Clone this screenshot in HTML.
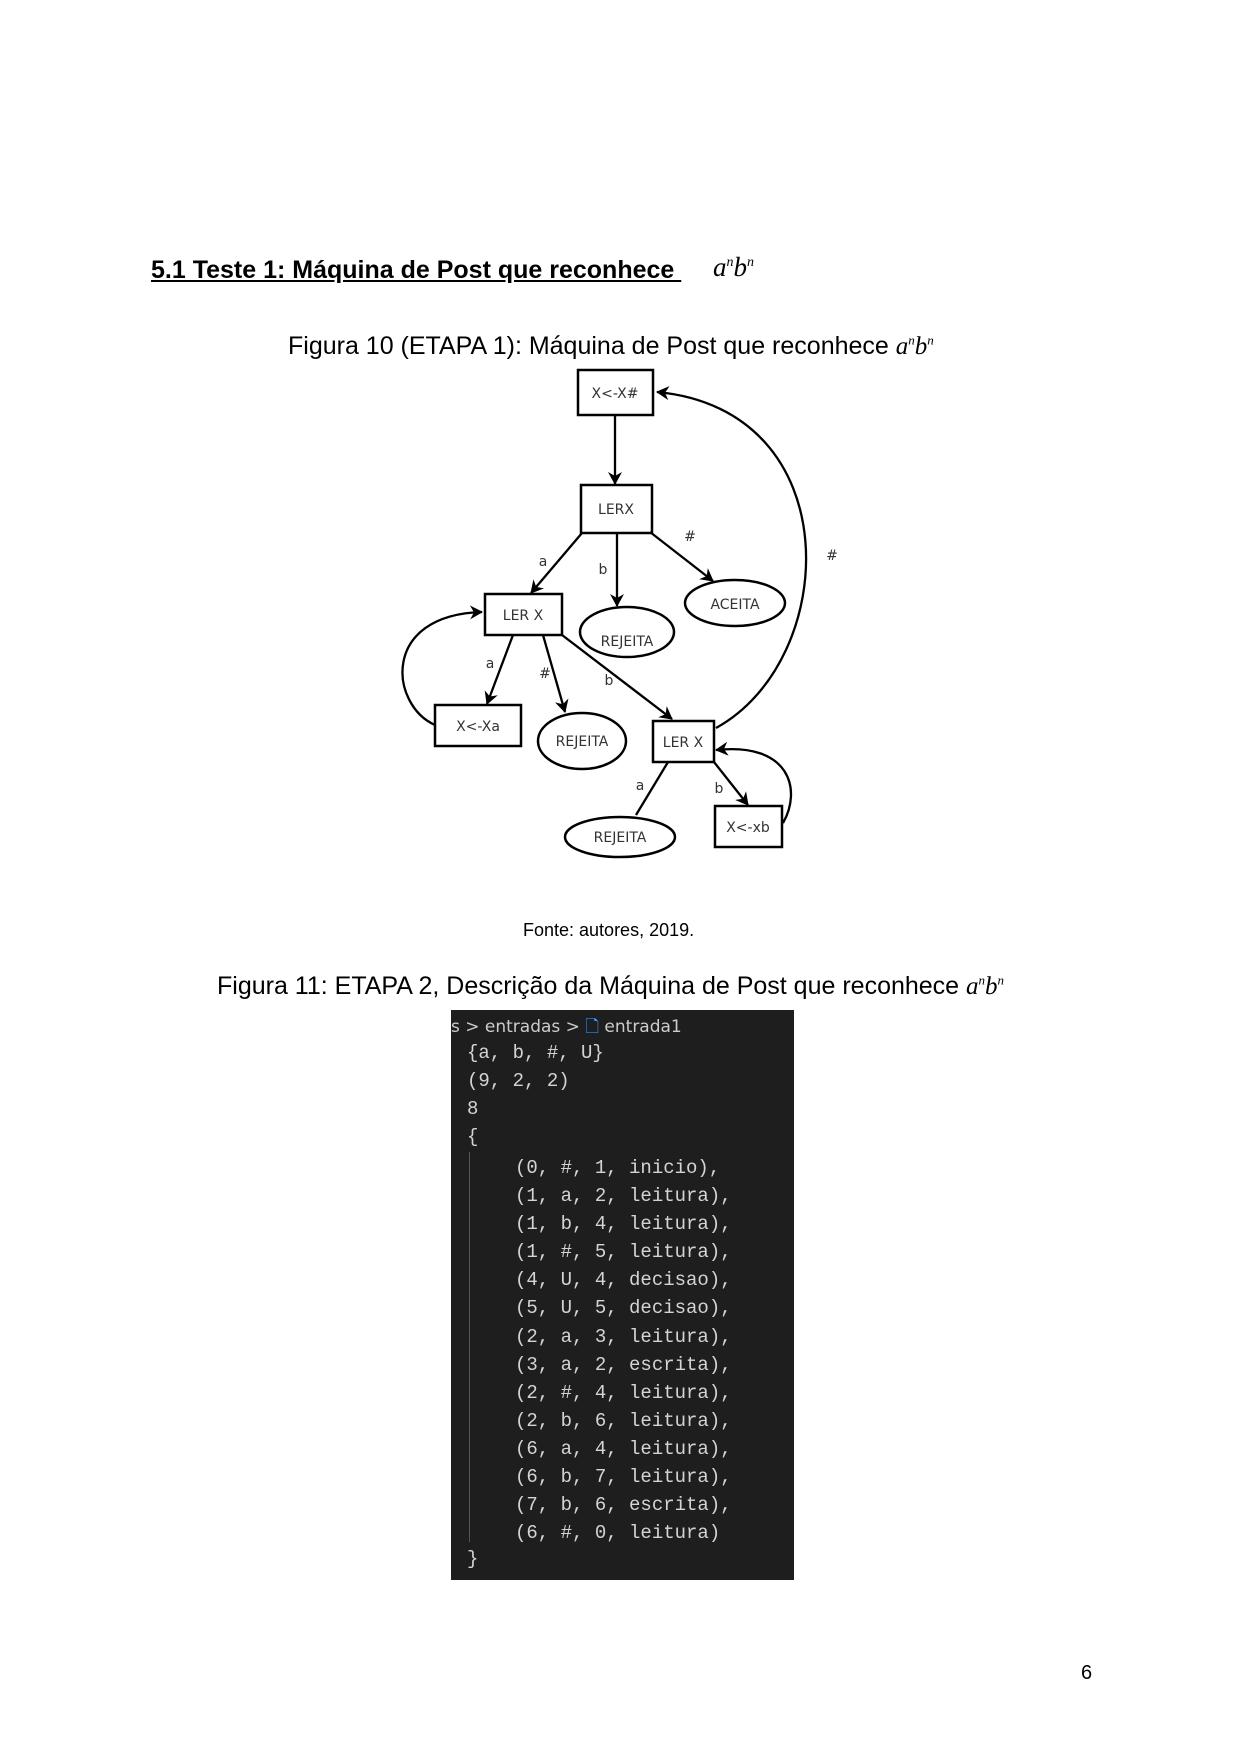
<!DOCTYPE html>
<html><head><meta charset="utf-8"><style>
html,body{margin:0;padding:0;background:#fff;}
body{width:1242px;height:1757px;position:relative;overflow:hidden;font-family:"Liberation Sans",sans-serif;color:#000;}
.abs{position:absolute;white-space:nowrap;}
.m{font-family:"Liberation Serif",serif;font-style:italic;}
.code{position:absolute;left:451px;top:1010px;width:343px;height:570px;background:#1e1e1e;color:#d4d4d4;font-family:"Liberation Mono","DejaVu Sans Mono",monospace;font-size:19px;overflow:hidden;}
.code div{position:absolute;white-space:pre;}
</style></head><body>
<div class="abs" style="left:151px;top:256px;font-size:25px;font-weight:bold;text-decoration:underline;">5.1 Teste 1: Máquina de Post que reconhece&nbsp;</div>
<div class="abs m" style="left:713px;top:252px;font-size:27px;">a<sup style="font-size:14px">n</sup>b<sup style="font-size:14px">n</sup></div>
<div class="abs" style="left:288px;top:332px;font-size:25px;">Figura 10 (ETAPA 1): Máquina de Post que reconhece <span class="m" style="font-size:25px">a<sup style="font-size:13px">n</sup>b<sup style="font-size:13px">n</sup></span></div>

<svg class="abs" style="left:0;top:0" width="1242" height="1000" font-family="DejaVu Sans, sans-serif" font-size="14">
<defs><marker id="ar" markerWidth="14" markerHeight="14" refX="12" refY="7" orient="auto" markerUnits="userSpaceOnUse"><path d="M0,0 L13,7 L0,14 L4,7 z" fill="#000"/></marker></defs>
<g fill="#fff" stroke="#000" stroke-width="2.5">
<rect x="578" y="370" width="75" height="45"/>
<rect x="581" y="485" width="71" height="48"/>
<rect x="485" y="594" width="77" height="41"/>
<rect x="435" y="705" width="86" height="41"/>
<rect x="653" y="721" width="61" height="41"/>
<rect x="715" y="806" width="67" height="41"/>
<ellipse cx="627" cy="632" rx="47" ry="25"/>
<ellipse cx="735" cy="603" rx="50" ry="23"/>
<ellipse cx="582" cy="741" rx="44" ry="28"/>
<ellipse cx="620" cy="837" rx="55" ry="20"/>
</g>
<g stroke="#000" stroke-width="2.3" fill="none" marker-end="url(#ar)">
<path d="M615,415 L615,484"/>
<path d="M582,533 L531,593"/>
<path d="M617,533 L617,606"/>
<path d="M650,532 L713,581"/>
<path d="M513,635 L487,704"/>
<path d="M543,635 L565,712"/>
<path d="M562,635 L672,719"/>
<path d="M435,725 C390,705 380,615 482,612"/>
<path d="M716,728 C840,660 850,410 657,392"/>
<path d="M714,762 L748,805"/>
<path d="M783,823 C802,790 790,742 716,750"/>
</g>
<path d="M668,762 L636,815" stroke="#000" stroke-width="2.3"/>
<g fill="#333" text-anchor="middle">
<text x="615" y="398">X&lt;-X#</text>
<text x="616" y="514">LERX</text>
<text x="523" y="620">LER X</text>
<text x="478" y="731">X&lt;-Xa</text>
<text x="683" y="747">LER X</text>
<text x="748" y="832">X&lt;-xb</text>
<text x="627" y="646">REJEITA</text>
<text x="735" y="609">ACEITA</text>
<text x="582" y="746">REJEITA</text>
<text x="620" y="842">REJEITA</text>
<text x="543" y="566">a</text>
<text x="603" y="574">b</text>
<text x="690" y="541">#</text>
<text x="490" y="668">a</text>
<text x="545" y="678">#</text>
<text x="609" y="685">b</text>
<text x="832" y="560">#</text>
<text x="640" y="790">a</text>
<text x="719" y="793">b</text>
</g>
</svg>

<div class="abs" style="left:523px;top:920px;font-size:18px;">Fonte: autores, 2019.</div>
<div class="abs" style="left:217px;top:972px;font-size:25px;">Figura 11: ETAPA 2, Descrição da Máquina de Post que reconhece <span class="m" style="font-size:25px">a<sup style="font-size:13px">n</sup>b<sup style="font-size:13px">n</sup></span></div>

<div class="code">
<div style="left:0;top:4px;font-family:'DejaVu Sans',sans-serif;font-size:17px;color:#ccc;">s &gt; entradas &gt; <span style="color:#4fa3f7">🗋</span> entrada1</div>
<div style="left:16px;top:32px">{a, b, #, U}</div>
<div style="left:16px;top:60px">(9, 2, 2)</div>
<div style="left:16px;top:88px">8</div>
<div style="left:16px;top:116px">{</div>
<div style="left:18px;top:142px;width:1px;height:390px;background:#555"></div>
<div style="left:64px;top:144px;line-height:28.1px">(0, #, 1, inicio),
(1, a, 2, leitura),
(1, b, 4, leitura),
(1, #, 5, leitura),
(4, U, 4, decisao),
(5, U, 5, decisao),
(2, a, 3, leitura),
(3, a, 2, escrita),
(2, #, 4, leitura),
(2, b, 6, leitura),
(6, a, 4, leitura),
(6, b, 7, leitura),
(7, b, 6, escrita),
(6, #, 0, leitura)</div>
<div style="left:16px;top:538px">}</div>
</div>

<div class="abs" style="left:1081px;top:1662px;font-size:20px;">6</div>
</body></html>
